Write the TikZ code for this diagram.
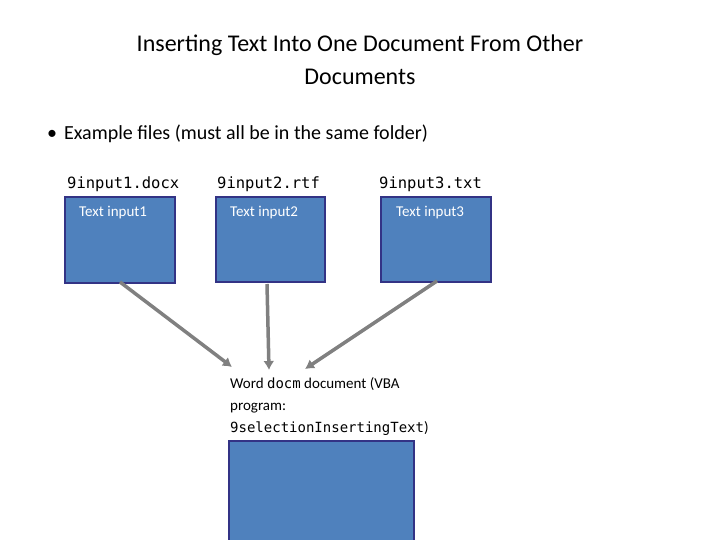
\documentclass[tikz,border=0pt]{standalone}
\usepackage{fontspec}
\setmainfont{Carlito}
\setmonofont{DejaVu Sans Mono}
\usetikzlibrary{arrows.meta}
\begin{document}
\begin{tikzpicture}[x=1pt,y=-1pt,
  box/.style={draw=blue!40!black!80,fill={rgb,255:red,79;green,129;blue,189},line width=1.5pt},
  arr/.style={draw={rgb,255:red,128;green,128;blue,128},line width=3.5pt,-{Latex[length=9pt,width=11pt]}},
  lbl/.style={inner sep=0,anchor=base west}]
\useasboundingbox (0,0) rectangle (720,540);
\node[align=center,font=\fontsize{24}{33}\selectfont] (title) at (360,60) {Inserting Text Into One Document From Other\\Documents};
\node[lbl,font=\fontsize{20}{24}\selectfont] (bul) at (47,140) {\textbullet\hspace{7pt}Example files (must all be in the same folder)};
\draw[box] (65,197) rectangle (175,283);
\draw[box] (216,197) rectangle (325,282);
\draw[box] (381,197) rectangle (491,282);
\draw[box] (229,441) rectangle (414,545);
\node[lbl,font=\ttfamily\fontsize{15.5}{18}\selectfont] (f1) at (67,189) {9input1.docx};
\node[lbl,font=\ttfamily\fontsize{15.5}{18}\selectfont] (f2) at (217,189) {9input2.rtf};
\node[lbl,font=\ttfamily\fontsize{15.5}{18}\selectfont] (f3) at (379,189) {9input3.txt};
\node[lbl,white,font=\fontsize{15}{18}\selectfont] (t1) at (79,217) {Text input1};
\node[lbl,white,font=\fontsize{15}{18}\selectfont] (t2) at (230,217) {Text input2};
\node[lbl,white,font=\fontsize{15}{18}\selectfont] (t3) at (396,217) {Text input3};
\node[lbl,font=\fontsize{15}{18}\selectfont] (w1) at (230,388) {Word {\ttfamily\fontsize{14}{18}\selectfont docm} document (VBA};
\node[lbl,font=\fontsize{15}{18}\selectfont] (w2) at (230,410) {program:};
\node[lbl,font=\ttfamily\fontsize{14}{18}\selectfont] (w3) at (230,432) {9selectionInsertingText{\rmfamily\fontsize{15}{18}\selectfont)}};
\coordinate (s1) at (120,282); \coordinate (e1) at (232,367);
\coordinate (s2) at (267,284); \coordinate (e2) at (269,370);
\coordinate (s3) at (437,281); \coordinate (e3) at (305,369);
\draw[arr] (s1) -- (e1);
\draw[arr] (s2) -- (e2);
\draw[arr] (s3) -- (e3);
\end{tikzpicture}
\end{document}
